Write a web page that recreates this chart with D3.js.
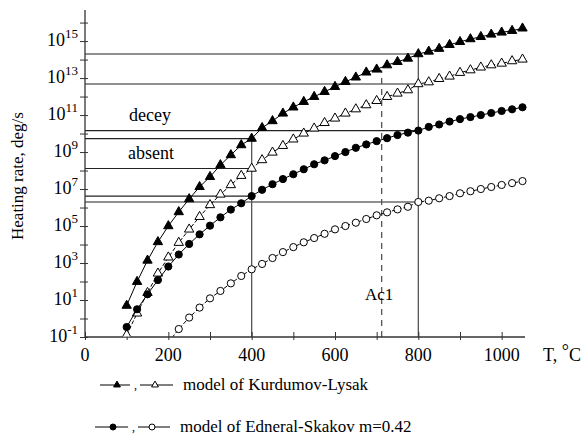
<!DOCTYPE html>
<html><head><meta charset="utf-8">
<script src="https://cdn.jsdelivr.net/npm/d3@7"></script>
<style>body{margin:0;background:#fff}svg text{font-family:"Liberation Serif","Times New Roman","DejaVu Serif",serif}</style>
</head><body><svg id="c" width="587" height="435"></svg>
<script>
// Temperatures (°C), sampled every 25 degrees
const temps = d3.range(100, 1051, 25);
// log10 of heating rate (deg/s) for each series
const kurdFilled = [0.70,1.99,3.14,4.14,5.00,5.76,6.46,7.12,7.66,8.30,8.84,9.38,9.73,10.31,10.68,11.09,11.42,11.72,11.99,12.26,12.53,12.80,13.04,13.31,13.47,13.70,13.88,14.06,14.30,14.44,14.59,14.80,14.96,15.11,15.23,15.36,15.47,15.56,15.69];
const kurdOpen = [-0.89,0.28,1.39,2.44,3.31,4.10,4.82,5.50,6.14,6.71,7.22,7.72,8.11,8.57,8.98,9.34,9.69,10.01,10.28,10.58,10.82,11.09,11.32,11.54,11.77,11.99,12.17,12.35,12.68,12.78,12.96,13.09,13.29,13.43,13.58,13.70,13.79,13.92,14.01];
const ednFilled = [-0.46,0.50,1.31,2.08,2.81,3.46,4.03,4.55,5.02,5.47,5.89,6.23,6.62,6.96,7.26,7.54,7.80,8.07,8.34,8.55,8.78,9.00,9.23,9.41,9.59,9.75,9.92,10.05,10.16,10.36,10.49,10.65,10.78,10.89,11.00,11.11,11.22,11.31,11.42];
const ednOpenTemps = d3.range(200, 1051, 25);
const ednOpen = [-1.3,-0.57,0.05,0.59,1.09,1.49,1.90,2.30,2.66,2.95,3.27,3.59,3.86,4.12,4.35,4.58,4.82,5.00,5.18,5.38,5.58,5.74,5.90,6.04,6.30,6.37,6.50,6.62,6.77,6.88,7.00,7.11,7.22,7.32,7.43];
const xTicks = d3.range(0, 1001, 100);
const xTickLabels = [0, 200, 400, 600, 800, 1000];
const yTickExps = d3.range(-1, 17, 1);
const yLabelExps = [-1, 1, 3, 5, 7, 9, 11, 13, 15];
const refTemps = [400, 800];
const ac1 = 712;
const legendLabels = ["model of Kurdumov-Lysak", "model of Edneral-Skakov m=0.42"];

const FONT = '"Liberation Serif","Times New Roman","DejaVu Serif",serif';
const svg = d3.select("#c").attr("font-family", FONT);
const x = d3.scaleLinear().domain([0, 1056]).range([85, 525]);
const y = d3.scaleLog().domain([0.1, Math.pow(10, 16.68)]).range([337, 10]);
const P = e => Math.pow(10, e);

const series = [
  {t: temps, v: kurdFilled, shape: "tri", fill: "#000", dash: null},
  {t: temps, v: kurdOpen, shape: "tri", fill: "#fff", dash: "4,2"},
  {t: temps, v: ednFilled, shape: "circ", fill: "#000", dash: null},
  {t: ednOpenTemps, v: ednOpen, shape: "circ", fill: "#fff", dash: "4,2"}
];
const valAt = (s, T) => s.v[s.t.indexOf(T)];

// reference lines
const refG = svg.append("g");
series.forEach(s => {
  refTemps.forEach(T => {
    if (T === 400 && s === series[3]) return;
    const yy = y(P(valAt(s, T)));
    refG.append("line").attr("x1", x(0)).attr("x2", x(T)).attr("y1", yy).attr("y2", yy)
      .attr("stroke", "#222").attr("stroke-width", 1.2);
  });
});
refTemps.forEach(T => {
  const yy = y(P(valAt(series[0], T)));
  refG.append("line").attr("x1", x(T)).attr("x2", x(T)).attr("y1", y(0.1)).attr("y2", yy)
    .attr("stroke", "#555").attr("stroke-width", 1.3);
});
// Ac1 dashed
const acTop = y(P(d3.interpolateNumber(valAt(series[0], 700), valAt(series[0], 725))((ac1 - 700) / 25)));
refG.append("line").attr("x1", x(ac1)).attr("x2", x(ac1)).attr("y1", y(0.1)).attr("y2", acTop + 3)
  .attr("stroke", "#555").attr("stroke-width", 1.3).attr("stroke-dasharray", "6,5");

// axes
const yAxis = d3.axisLeft(y).tickValues(yTickExps.map(P)).tickFormat("").tickSizeInner(5).tickSizeOuter(0);
const gy = svg.append("g").attr("transform", `translate(${x(0)},0)`).call(yAxis);
gy.select(".domain").attr("d", `M0,${y(0.1)}V10`).attr("stroke", "#333").attr("stroke-width", 1.3);
gy.selectAll(".tick line").attr("x1", 3).attr("x2", -5).attr("stroke", "#333");
const xAxis = d3.axisBottom(x).tickValues(xTicks).tickFormat("").tickSizeInner(3).tickSizeOuter(0);
const gx = svg.append("g").attr("transform", `translate(0,${y(0.1)})`).call(xAxis);
gx.select(".domain").attr("d", `M${x(0)},0H525`).attr("stroke", "#333").attr("stroke-width", 1.3);
gx.selectAll(".tick line").attr("y1", -5).attr("y2", 3).attr("stroke", "#333");

function txt(xx, yy, size, s) {
  return svg.append("text").attr("x", xx).attr("y", yy).attr("font-size", size).attr("font-family", FONT).text(s);
}
// y labels
yLabelExps.forEach(e => {
  const t = svg.append("text").attr("x", 78).attr("y", y(P(e)) + 5).attr("text-anchor", "end")
    .attr("font-size", 18).attr("font-family", FONT);
  t.append("tspan").text("10");
  t.append("tspan").attr("dy", -8).attr("font-size", 13).text(String(e));
});
xTickLabels.forEach(v => {
  txt(x(v), 361, 18, v).attr("text-anchor", "middle");
});
const tl = svg.append("text").attr("x", 543).attr("y", 361).attr("font-size", 18).attr("font-family", FONT);
tl.append("tspan").text("T, ");
tl.append("tspan").attr("dy", -4).text("°");
tl.append("tspan").attr("dy", 4).text("C");
svg.append("text").attr("transform", "translate(23,176) rotate(-90)").attr("text-anchor", "middle")
  .attr("font-size", 17).attr("font-family", FONT).text("Heating rate, deg/s");
txt(129, 121, 18, "decey");
txt(128, 159, 18, "absent");
txt(365, 300, 17, "Ac1");

// data
svg.append("clipPath").attr("id", "pc").append("rect").attr("x", 85).attr("y", 0).attr("width", 450).attr("height", 336.5);
const dg = svg.append("g").attr("clip-path", "url(#pc)");
const tri = d3.symbol().type(d3.symbolTriangle).size(38);
series.forEach(s => {
  const pts = s.t.map((T, i) => [x(T), y(P(s.v[i]))]);
  dg.append("path").attr("d", d3.line()(pts)).attr("fill", "none").attr("stroke", "#000").attr("stroke-width", 1)
    .attr("stroke-dasharray", s.dash);
  pts.forEach(p => {
    if (s.shape === "tri") {
      dg.append("path").attr("d", tri()).attr("transform", `translate(${p[0]},${p[1]})`)
        .attr("fill", s.fill).attr("stroke", "#000").attr("stroke-width", 1);
    } else {
      dg.append("circle").attr("cx", p[0]).attr("cy", p[1]).attr("r", 3.6)
        .attr("fill", s.fill).attr("stroke", "#000").attr("stroke-width", 1);
    }
  });
});

// legend
const tri2 = d3.symbol().type(d3.symbolTriangle).size(20);
function legendRow(yy, shape, label, tx) {
  const segs = shape === "tri" ? [[100, 130, 117, "#000"], [140, 173, 155, "#fff"]] : [[95, 128, 113, "#000"], [138, 170, 152, "#fff"]];
  segs.forEach(sg => {
    svg.append("line").attr("x1", sg[0]).attr("x2", sg[1]).attr("y1", yy).attr("y2", yy).attr("stroke", "#000");
    if (shape === "tri") svg.append("path").attr("d", tri2()).attr("transform", `translate(${sg[2]},${yy})`)
      .attr("fill", sg[3]).attr("stroke", "#000");
    else svg.append("circle").attr("cx", sg[2]).attr("cy", yy).attr("r", 3).attr("fill", sg[3]).attr("stroke", "#000");
  });
  txt((segs[0][1] + segs[1][0]) / 2 - 1, yy + 4, 12, ",");
  txt(tx, yy + 5, 17, label);
}
legendRow(385, "tri", legendLabels[0], 183);
legendRow(427, "circ", legendLabels[1], 180);
</script></body></html>
